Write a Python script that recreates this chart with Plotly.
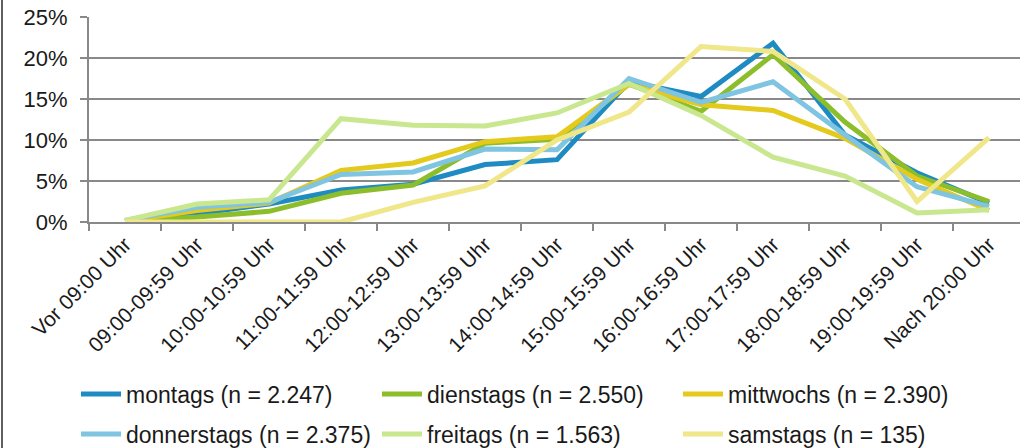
import plotly.graph_objects as go

categories = ["Vor 09:00 Uhr", "09:00-09:59 Uhr", "10:00-10:59 Uhr", "11:00-11:59 Uhr",
              "12:00-12:59 Uhr", "13:00-13:59 Uhr", "14:00-14:59 Uhr", "15:00-15:59 Uhr",
              "16:00-16:59 Uhr", "17:00-17:59 Uhr", "18:00-18:59 Uhr", "19:00-19:59 Uhr",
              "Nach 20:00 Uhr"]

montags = [0.1, 1.0, 2.2, 3.9, 4.6, 7.0, 7.6, 17.1, 15.3, 21.8, 10.6, 6.0, 2.3]
dienstags = [0.1, 0.6, 1.3, 3.5, 4.5, 9.6, 10.1, 16.8, 13.5, 20.4, 12.2, 5.6, 2.5]
mittwochs = [0.1, 1.4, 2.3, 6.3, 7.2, 9.8, 10.4, 16.8, 14.3, 13.6, 10.2, 5.2, 1.4]
donnerstags = [0.2, 1.8, 2.4, 5.8, 6.1, 8.9, 8.8, 17.5, 14.6, 17.1, 10.6, 4.3, 1.9]
freitags = [0.2, 2.2, 2.7, 12.6, 11.8, 11.7, 13.3, 16.9, 13.0, 7.9, 5.6, 1.1, 1.5]
samstags = [0.0, 0.0, 0.0, 0.0, 2.4, 4.4, 10.0, 13.4, 21.4, 20.8, 15.0, 2.5, 10.3]

series_names = ["montags (n = 2.247)", "dienstags (n = 2.550)", "mittwochs (n = 2.390)",
                "donnerstags (n = 2.375)", "freitags (n = 1.563)", "samstags (n = 135)"]
series_values = [montags, dienstags, mittwochs, donnerstags, freitags, samstags]
series_colors = ["#1f8bc3", "#8cbd2b", "#e4ca1c", "#7fc4e1", "#c9e78f", "#f0e68a"]
series_legend = ["legend", "legend", "legend", "legend2", "legend2", "legend2"]

y_tick_values = [0, 5, 10, 15, 20, 25]
y_tick_labels = ["0%", "5%", "10%", "15%", "20%", "25%"]

FONT = "Liberation Sans, Arial, sans-serif"
TXT = "#1a1a1a"
GRID = "#898989"

fig = go.Figure()
for name, vals, col, lg in zip(series_names, series_values, series_colors, series_legend):
    fig.add_trace(go.Scatter(
        x=categories, y=vals, name=name, mode="lines",
        line=dict(color=col, width=5), legend=lg,
    ))

W, H = 1020, 448
L, R, T, B = 89, 0, 17, 226
pw = W - L - R
ph = H - T - B

def px_x(p):
    return (p - L) / pw

def px_y(p):
    return (H - B - p) / ph

legend_common = dict(
    orientation="h", xanchor="left", yanchor="middle",
    font=dict(family=FONT, size=23, color=TXT),
    entrywidth=246, bgcolor="rgba(0,0,0,0)", itemwidth=40,
    tracegroupgap=0,
)

fig.update_layout(
    width=W, height=H,
    margin=dict(l=L, r=R, t=T, b=B, pad=0, autoexpand=False),
    paper_bgcolor="white", plot_bgcolor="white",
    font=dict(family=FONT, color=TXT),
    showlegend=True,
    legend=dict(x=px_x(76), y=px_y(394), **legend_common),
    legend2=dict(x=px_x(76), y=px_y(434), **legend_common),
    xaxis=dict(
        type="category", range=[-0.5, 12.43], automargin=False,
        showgrid=False, showline=True, linecolor=GRID, linewidth=2,
        ticks="outside", ticklen=7, tickcolor=GRID, tickwidth=2,
        tickson="boundaries", tickangle=-45,
        tickfont=dict(family=FONT, size=21, color=TXT),
        ticklabelstandoff=0,
    ),
    yaxis=dict(
        range=[0, 25], tickvals=y_tick_values, ticktext=y_tick_labels,
        automargin=False,
        showgrid=True, gridcolor=GRID, gridwidth=2,
        showline=True, linecolor=GRID, linewidth=2,
        ticks="outside", ticklen=7, tickcolor=GRID, tickwidth=2,
        tickfont=dict(family=FONT, size=22, color=TXT),
        zeroline=False, ticklabelstandoff=8,
    ),
    shapes=[dict(type="line", xref="paper", yref="paper",
                 x0=px_x(2), x1=px_x(2), y0=px_y(H + 5), y1=px_y(-5),
                 line=dict(color="#2b2b2b", width=1.5))],
)

fig.write_html("out.html", config={"displayModeBar": False},
               post_script="document.body.style.margin='0';document.body.style.overflow='hidden';")
